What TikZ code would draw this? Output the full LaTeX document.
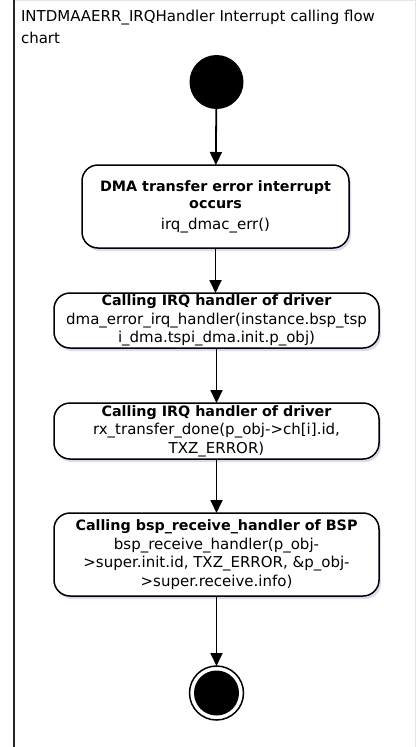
\documentclass[tikz,border=0pt]{standalone}
\usepackage{fontspec}
\setmainfont{DejaVu Sans}
\usetikzlibrary{arrows.meta,shadows}
\begin{document}
\begin{tikzpicture}[x=1pt,y=-1pt,
  every node/.style={inner sep=0pt, outer sep=0pt},
  flowbox/.style={draw=black, line width=1.5pt, rounded corners=16pt, fill=white, align=center,
    font=\fontsize{15}{18.5}\selectfont,
    drop shadow={opacity=0.2, shadow xshift=2pt, shadow yshift=-3pt, fill=blue!40!gray}},
  flowarrow/.style={line width=1.8pt, -{Triangle[width=12pt,length=13pt]}},
  titletext/.style={anchor=base west, font=\fontsize{15}{18}\selectfont},
]
\useasboundingbox (0,0) rectangle (417,747);
% frame
\draw[gray!20, line width=1pt] (13.5,0.5) -- (415.5,0.5) -- (415.5,747);
\draw[black!85, line width=2pt] (13.5,0) -- (13.5,747);
% title
\node[titletext] (t1) at (21,21) {INTDMAAERR\_IRQHandler Interrupt calling flow};
\node[titletext] (t2) at (21,43) {chart};
% start
\node[circle, fill=black, minimum size=54pt] (start) at (216.5,82) {};
% boxes
\node[flowbox, minimum width=267pt, minimum height=83pt] (b1) at (215.5,206.5)
  {{\fontsize{14.3}{17}\bfseries DMA transfer error interrupt}\\[-1pt]
   {\fontsize{14.3}{17}\bfseries occurs}\\[2pt]
   irq\_dmac\_err()};
\node[flowbox, minimum width=325pt, minimum height=55pt] (b2) at (216.5,320.5)
  {{\fontsize{14.3}{18.5}\bfseries Calling IRQ handler of driver}\\
   dma\_error\_irq\_handler(instance.bsp\_tsp\\
   i\_dma.tspi\_dma.init.p\_obj)};
\node[flowbox, minimum width=325pt, minimum height=56pt] (b3) at (216.5,431)
  {{\fontsize{14.3}{18.5}\bfseries Calling IRQ handler of driver}\\
   rx\_transfer\_done(p\_obj->ch[i].id,\\
   TXZ\_ERROR)};
\node[flowbox, minimum width=325pt, minimum height=83pt] (b4) at (216.5,554.5)
  {{\fontsize{14.3}{18.5}\bfseries Calling bsp\_receive\_handler of BSP}\\
   bsp\_receive\_handler(p\_obj-\\
   >super.init.id, TXZ\_ERROR, \&p\_obj-\\
   >super.receive.info)};
% end
\node[circle, draw=black, line width=1.5pt, fill=white, minimum size=54pt] (endo) at (216.5,693) {};
\node[circle, fill=black, minimum size=45pt] (endi) at (216.5,693) {};
% arrows
\draw[flowarrow] (start) -- (b1);
\draw[flowarrow] (b1) -- (b1 |- b2.north);
\draw[flowarrow] (b2) -- (b3);
\draw[flowarrow] (b3) -- (b4);
\draw[flowarrow] (b4) -- (endo);
\end{tikzpicture}
\end{document}
